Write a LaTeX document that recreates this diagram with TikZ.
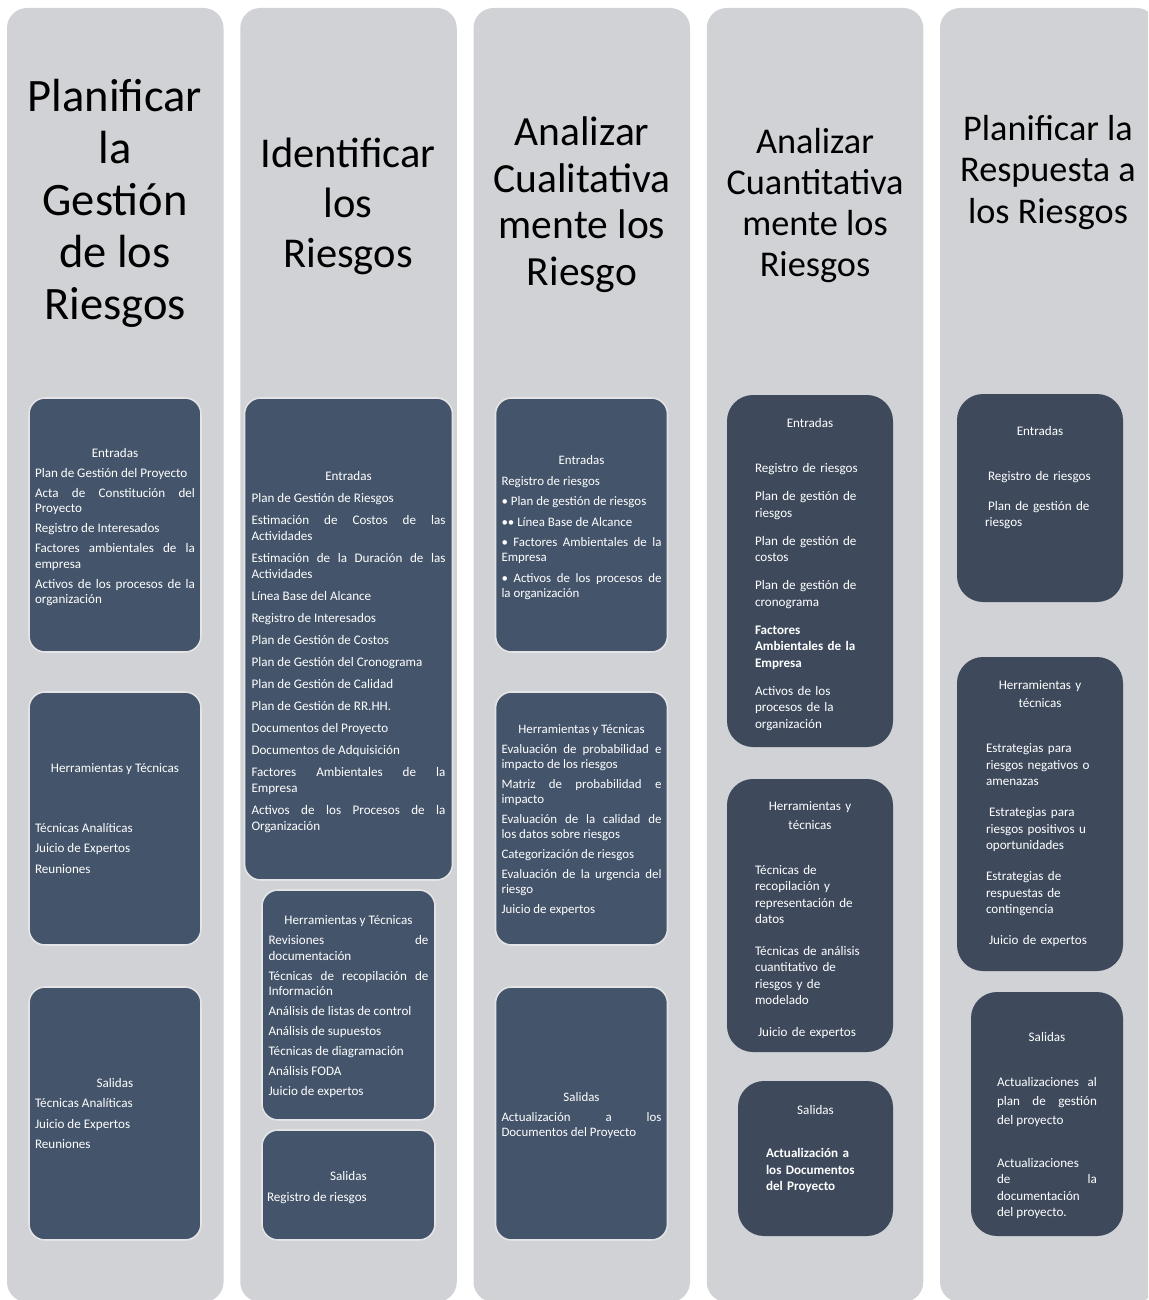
\documentclass[tikz,border=0pt]{standalone}
\usepackage{fontspec}
\setmainfont{Carlito}
\definecolor{colgray}{HTML}{D1D2D6}
\definecolor{bxfill}{HTML}{44546A}
\definecolor{bxedge}{HTML}{E4E4E6}
\definecolor{bxdark}{HTML}{3E4A5C}
\hyphenpenalty=10000
\exhyphenpenalty=10000
\tolerance=10000
\newcommand\psk[1]{\setlength{\parskip}{#1pt}\setlength{\parindent}{0pt}\hyphenpenalty=10000 \tolerance=10000 }
\newcommand\hd[1]{{\centering #1\par}}
\newcommand\hdt[2]{{\centering\rule{0pt}{#1pt}#2\par}}
\begin{document}
\begin{tikzpicture}[x=1pt,y=-1pt,
  colbar/.style={fill=colgray, rounded corners=20pt, inner sep=0pt, minimum width=216.5, minimum height=1294},
  bx/.style={draw=bxedge, line width=1.6pt, fill=bxfill, rounded corners=16pt, inner sep=0pt, text=white, align=justify, font=\fontsize{13.1}{16}\selectfont},
  bxd/.style={fill=bxdark, rounded corners=26pt, inner sep=0pt, text=white, align=left, font=\fontsize{13.1}{16.5}\selectfont},
  ttl/.style={align=center, inner sep=0pt, text=black}]
\useasboundingbox (0,0) rectangle (1148,1300);
\clip (0,0) rectangle (1148,1300);
% columns
\node[colbar] (c1) at (115.25,655) {};
\node[colbar] (c2) at (348.5,655) {};
\node[colbar] (c3) at (581.75,655) {};
\node[colbar] (c4) at (815,655) {};
\node[colbar] (c5) at (1048.25,655) {};
% titles
\node[ttl, font=\fontsize{46.5}{52}\selectfont] (t1) at (115,203) {Planificar\\la\\Gestión\\de los\\Riesgos};
\node[ttl, font=\fontsize{42.5}{50}\selectfont] (t2) at (348,206) {Identificar\\los\\Riesgos};
\node[ttl, font=\fontsize{41.5}{46.5}\selectfont] (t3) at (582,204.5) {Analizar\\Cualitativa\\mente los\\Riesgo};
\node[ttl, font=\fontsize{36.3}{41}\selectfont] (t4) at (815,206) {Analizar\\Cuantitativa\\mente los\\Riesgos};
\node[ttl, font=\fontsize{36.2}{41.5}\selectfont] (t5) at (1048,172.5) {Planificar la\\Respuesta a\\los Riesgos};
% column 1
\node[bx, minimum width=172, minimum height=254, text width=160, font=\fontsize{13.1}{15.5}\selectfont] (e1) at (115,525) {\psk{4.5}\hdt{13}{Entradas}
Plan de Gestión del Proyecto\par
Acta de Constitución del\linebreak Proyecto\par
Registro de Interesados\par
Factores ambientales de la\linebreak empresa\par
Activos de los procesos de la\linebreak organización};
\node[bx, minimum width=172, minimum height=253, text width=160] (h1) at (115,818.5) {\psk{4.5}\hd{Herramientas y Técnicas}\vspace{39pt}
Técnicas Analíticas\par
Juicio de Expertos\par
Reuniones};
\node[bx, minimum width=172, minimum height=253, text width=160] (s1) at (115,1113.5) {\psk{4.5}\hd{Salidas}
Técnicas Analíticas\par
Juicio de Expertos\par
Reuniones};
% column 2
\node[bx, minimum width=208, minimum height=482, text width=194] (e2) at (348.5,639) {\psk{6}\hdt{35}{Entradas}
Plan de Gestión de Riesgos\par
Estimación de Costos de las\linebreak Actividades\par
Estimación de la Duración de las\linebreak Actividades\par
Línea Base del Alcance\par
Registro de Interesados\par
Plan de Gestión de Costos\par
Plan de Gestión del Cronograma\par
Plan de Gestión de Calidad\par
Plan de Gestión de RR.HH.\par
Documentos del Proyecto\par
Documentos de Adquisición\par
Factores Ambientales de la\linebreak Empresa\par
Activos de los Procesos de la\linebreak Organización};
\node[bx, minimum width=173, minimum height=230, text width=160, font=\fontsize{13.1}{15.5}\selectfont] (h2) at (348.5,1005) {\psk{4.5}\hdt{13}{Herramientas y Técnicas}
Revisiones de\linebreak documentación\par
Técnicas de recopilación de\linebreak Información\par
Análisis de listas de control\par
Análisis de supuestos\par
Técnicas de diagramación\par
Análisis FODA\par
Juicio de expertos};
\node[bx, minimum width=173, minimum height=110, text width=163] (s2) at (348.5,1185) {\psk{4.5}\hdt{14}{Salidas}
Registro de riesgos};
% column 3
\node[bx, minimum width=172, minimum height=254, text width=160, font=\fontsize{12.9}{15}\selectfont] (e3) at (581.5,525) {\psk{5.5}\hdt{14}{Entradas}
Registro de riesgos\par
• Plan de gestión de riesgos\par
•• Línea Base de Alcance\par
• Factores Ambientales de la\linebreak Empresa\par
• Activos de los procesos de\linebreak la organización};
\node[bx, minimum width=172, minimum height=253, text width=160, font=\fontsize{12.9}{15}\selectfont] (h3) at (581.5,818.5) {\psk{5}\hdt{13}{Herramientas y Técnicas}
Evaluación de probabilidad e\linebreak impacto de los riesgos\par
Matriz de probabilidad e\linebreak impacto\par
Evaluación de la calidad de\linebreak los datos sobre riesgos\par
Categorización de riesgos\par
Evaluación de la urgencia del\linebreak riesgo\par
Juicio de expertos};
\node[bx, minimum width=172, minimum height=253, text width=160, font=\fontsize{12.9}{15}\selectfont] (s3) at (581.5,1113.5) {\psk{5}\hdt{13}{Salidas}
Actualización a los\linebreak Documentos del Proyecto};
% column 4
\node[bxd, minimum width=166, minimum height=352, text width=110] (e4) at (810,571) {\psk{11.5}\raggedright\hdt{16}{Entradas}\vspace{17pt}
Registro de riesgos\par
Plan de gestión de\\riesgos\par
Plan de gestión de\\costos\par
Plan de gestión de\\cronograma\par
\textbf{Factores\\Ambientales de la\\Empresa}\par
Activos de los\\procesos de la\\organización};
\node[bxd, minimum width=166, minimum height=273, text width=110] (h4) at (810,915.5) {\psk{15}\raggedright{\centering\setlength{\baselineskip}{19pt}\rule{0pt}{18pt}Herramientas y\\técnicas\par}\vspace{13pt}
Técnicas de\\recopilación y\\representación de\\datos\par
Técnicas de análisis\\cuantitativo de\\riesgos y de\\modelado\par
\hspace*{3pt}Juicio de expertos};
\node[bxd, minimum width=155, minimum height=155, text width=99] (s4) at (815.5,1158.5) {\psk{0}\raggedright\hd{Salidas}\vspace{27pt}
\textbf{Actualización a\\los Documentos\\del Proyecto}\par\rule{0pt}{18pt}};
% column 5
\node[bxd, minimum width=166, minimum height=208, text width=110] (e5) at (1040,498) {\psk{13.5}\raggedright\hd{Entradas}\vspace{15pt}
\hspace*{3pt}Registro de riesgos\par
\hspace*{3pt}Plan de gestión de\\riesgos\par\rule{0pt}{26pt}};
\node[bxd, minimum width=166, minimum height=314, text width=108] (h5) at (1040,814) {\psk{14.5}\raggedright{\centering\setlength{\baselineskip}{18pt}Herramientas y\\técnicas\par}\vspace{14pt}
Estrategias para\\riesgos negativos o\\amenazas\par
\hspace*{3pt}Estrategias para\\riesgos positivos u\\oportunidades\par
Estrategias de\\respuestas de\\contingencia\par
\hspace*{3pt}Juicio de expertos};
\node[bxd, align=justify, minimum width=152, minimum height=244, text width=100] (s5) at (1047,1114) {\psk{0}\hdt{33}{Salidas}\vspace{26pt}
{\setlength{\baselineskip}{19pt}Actualizaciones al\linebreak plan de gestión\linebreak del proyecto\par}\vspace{26pt}
Actualizaciones\linebreak de la\linebreak documentación\linebreak del proyecto.};
\end{tikzpicture}
\end{document}
